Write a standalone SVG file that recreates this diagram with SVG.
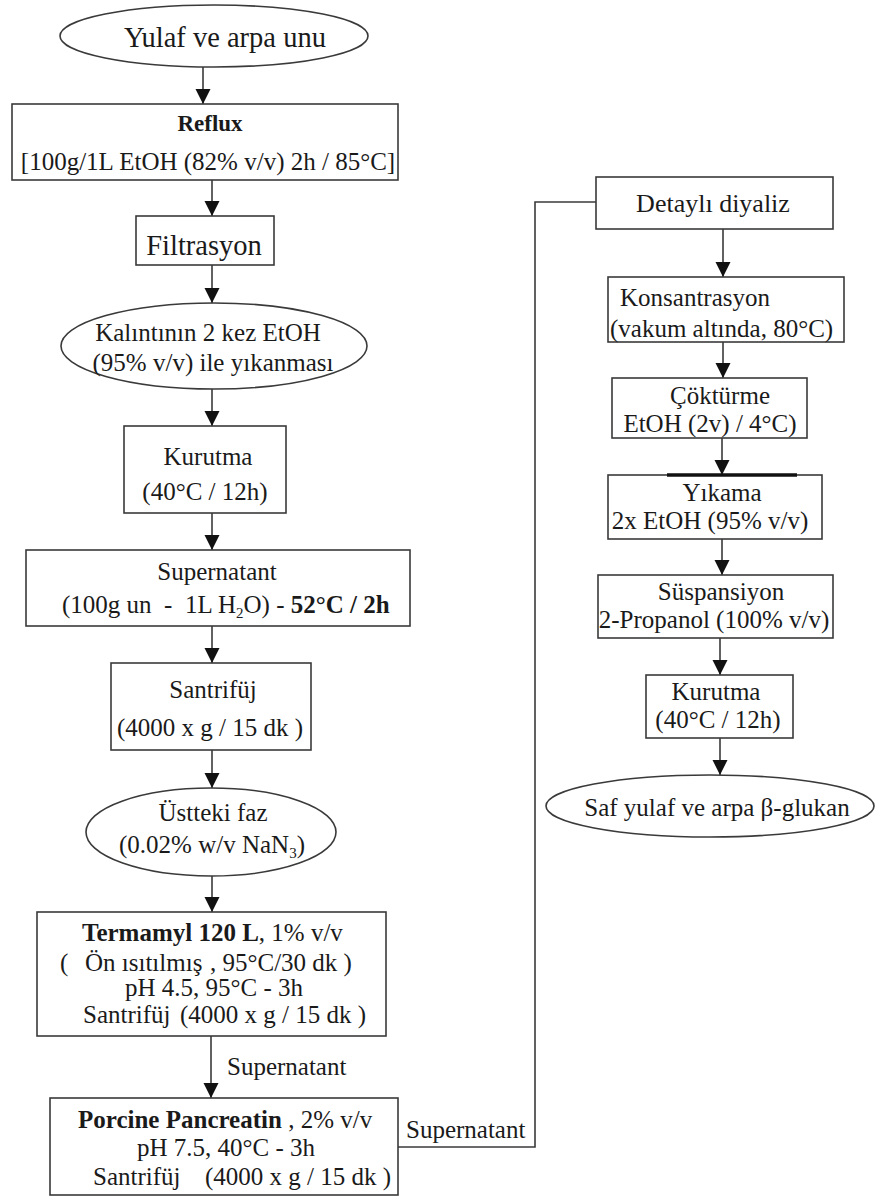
<svg xmlns="http://www.w3.org/2000/svg" width="876" height="1198" viewBox="0 0 876 1198">
<style>
.box{fill:#fff;stroke:#3a3a3a;stroke-width:1.6}
.t{font-family:"Liberation Serif","Times New Roman",serif;font-size:25px;fill:#1a1a1a}
.c{text-anchor:middle}
.b{font-weight:bold}
.big{font-size:28.5px}
.ln{fill:none;stroke:#3a3a3a;stroke-width:1.6}
</style>
<defs>
<marker id="ah" markerUnits="userSpaceOnUse" markerWidth="16" markerHeight="16" refX="15" refY="7.5" orient="auto">
<path d="M0,0 L15,7.5 L0,15 Z" fill="#111"/>
</marker>
</defs>
<rect width="876" height="1198" fill="#fff"/>

<g id="connectors">
<line class="ln" x1="203" y1="67" x2="203" y2="104" marker-end="url(#ah)"/>
<line class="ln" x1="212" y1="180" x2="212" y2="216" marker-end="url(#ah)"/>
<line class="ln" x1="212" y1="265" x2="212" y2="303" marker-end="url(#ah)"/>
<line class="ln" x1="212" y1="389" x2="212" y2="426" marker-end="url(#ah)"/>
<line class="ln" x1="212" y1="513" x2="212" y2="550" marker-end="url(#ah)"/>
<line class="ln" x1="212" y1="626" x2="212" y2="663" marker-end="url(#ah)"/>
<line class="ln" x1="212" y1="750" x2="212" y2="788" marker-end="url(#ah)"/>
<line class="ln" x1="212" y1="876" x2="212" y2="912" marker-end="url(#ah)"/>
<line class="ln" x1="211" y1="1036" x2="211" y2="1098" marker-end="url(#ah)"/>
<text class="t" x="227" y="1075">Supernatant</text>
<polyline class="ln" points="398,1147 535,1147 535,202 596,202"/>
<text class="t" x="406" y="1138">Supernatant</text>
<line class="ln" x1="723" y1="229" x2="723" y2="277" marker-end="url(#ah)"/>
<line class="ln" x1="723" y1="342" x2="723" y2="378" marker-end="url(#ah)"/>
<line class="ln" x1="722" y1="438" x2="722" y2="475" marker-end="url(#ah)"/>
<line class="ln" x1="722" y1="539" x2="722" y2="575" marker-end="url(#ah)"/>
<line class="ln" x1="720" y1="638" x2="720" y2="675" marker-end="url(#ah)"/>
<line class="ln" x1="720" y1="738" x2="720" y2="775" marker-end="url(#ah)"/>
</g>

<g id="n-yulaf">
<ellipse class="box" cx="214" cy="36" rx="154" ry="31"/>
<text class="t c big" x="225" y="47">Yulaf ve arpa unu</text>
</g>

<g id="n-reflux">
<rect class="box" x="12" y="104" width="386" height="76"/>
<text class="t c b" x="210" y="131" style="font-size:23px">Reflux</text>
<text class="t c" x="208" y="170">[100g/1L EtOH (82% v/v) 2h / 85°C]</text>
</g>

<g id="n-filtrasyon">
<rect class="box" x="136" y="216" width="138" height="49"/>
<text class="t c big" x="204" y="255">Filtrasyon</text>
</g>

<g id="n-kalinti">
<ellipse class="box" cx="214" cy="346" rx="153" ry="43"/>
<text class="t c" x="208" y="341">Kalıntının 2 kez EtOH</text>
<text class="t c" x="213" y="371">(95% v/v) ile yıkanması</text>
</g>

<g id="n-kurutma1">
<rect class="box" x="124" y="426" width="162" height="87"/>
<text class="t c" x="208" y="465">Kurutma</text>
<text class="t c" x="205" y="500">(40°C / 12h)</text>
</g>

<g id="n-supernatant">
<rect class="box" x="26" y="550" width="384" height="76"/>
<text class="t c" x="217" y="580">Supernatant</text>
<text class="t" x="62" y="613" xml:space="preserve">(100g un  -  1L H<tspan dy="5" font-size="15">2</tspan><tspan dy="-5">O) - </tspan><tspan class="b">52°C / 2h</tspan></text>
</g>

<g id="n-santrifuj">
<rect class="box" x="111" y="663" width="200" height="87"/>
<text class="t c" x="213" y="698">Santrifüj</text>
<text class="t c" x="210" y="736">(4000 x g / 15  dk )</text>
</g>

<g id="n-ustteki">
<ellipse class="box" cx="211" cy="832" rx="125" ry="44"/>
<text class="t c" x="213" y="821">Üstteki faz</text>
<text class="t c" x="212" y="853">(0.02% w/v NaN<tspan dy="5" font-size="15">3</tspan><tspan dy="-5">)</tspan></text>
</g>

<g id="n-termamyl">
<rect class="box" x="37" y="912" width="349" height="124"/>
<text class="t" x="82" y="941"><tspan class="b">Termamyl 120 L</tspan>, 1% v/v</text>
<text class="t" x="60" y="971">(</text>
<text class="t" x="85" y="971">Ön ısıtılmış</text>
<text class="t" x="210" y="971">, 95°C/30 dk )</text>
<text class="t" x="125" y="996">pH 4.5, 95°C - 3h</text>
<text class="t" x="83" y="1023">Santrifüj</text>
<text class="t" x="180" y="1023">(4000 x g / 15 dk )</text>
</g>

<g id="n-porcine">
<rect class="box" x="50" y="1098" width="348" height="97"/>
<text class="t" x="78" y="1128"><tspan class="b">Porcine Pancreatin</tspan> , 2% v/v</text>
<text class="t" x="137" y="1156">pH 7.5, 40°C - 3h</text>
<text class="t" x="93" y="1185">Santrifüj</text>
<text class="t" x="205" y="1185">(4000 x g / 15 dk )</text>
</g>

<g id="n-diyaliz">
<rect class="box" x="596" y="177" width="237" height="52"/>
<text class="t c" x="713" y="212" style="font-size:26px">Detaylı diyaliz</text>
</g>

<g id="n-konsantrasyon">
<rect class="box" x="608" y="277" width="236" height="65"/>
<text class="t" x="620" y="306">Konsantrasyon</text>
<text class="t" x="610" y="337">(vakum altında, 80°C)</text>
</g>

<g id="n-cokturme">
<rect class="box" x="612" y="378" width="195" height="60"/>
<text class="t c" x="720" y="404">Çöktürme</text>
<text class="t c" x="710" y="432">EtOH (2v) / 4°C)</text>
</g>

<g id="n-yikama">
<rect class="box" x="608" y="475" width="214" height="64"/>
<line x1="667" y1="475" x2="797" y2="475" stroke="#111" stroke-width="3.5"/>
<text class="t c" x="722" y="501">Yıkama</text>
<text class="t c" x="710" y="529">2x EtOH (95% v/v)</text>
</g>

<g id="n-suspansiyon">
<rect class="box" x="598" y="575" width="235" height="63"/>
<text class="t c" x="721" y="600">Süspansiyon</text>
<text class="t c" x="714" y="628">2-Propanol (100% v/v)</text>
</g>

<g id="n-kurutma2">
<rect class="box" x="646" y="675" width="147" height="63"/>
<text class="t c" x="716" y="700">Kurutma</text>
<text class="t c" x="718" y="728">(40°C / 12h)</text>
</g>

<g id="n-saf">
<ellipse class="box" cx="710" cy="806" rx="164" ry="31"/>
<text class="t c" x="717" y="816">Saf yulaf ve arpa β-glukan</text>
</g>
</svg>
